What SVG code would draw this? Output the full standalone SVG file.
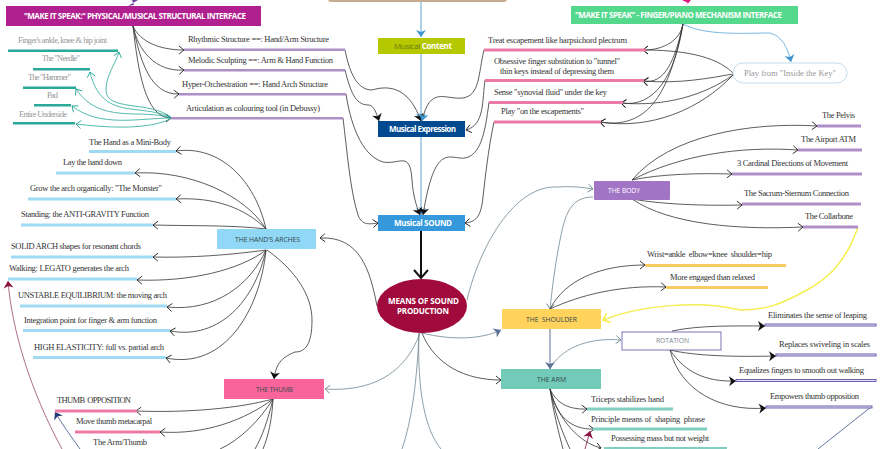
<svg xmlns="http://www.w3.org/2000/svg" width="890" height="449" viewBox="0 0 890 449">
<style>
text{font-family:"Liberation Serif","Times New Roman",serif;font-size:8.5px;fill:#333}
.g{fill:#999}
.s{font-family:"Open Sans","Liberation Sans",sans-serif;font-size:6.8px;fill:#33484f}
.w{font-family:"Open Sans","Liberation Sans",sans-serif;font-size:8px;font-weight:700;fill:#fff}
.c{fill:none;stroke:#333;stroke-width:.8}
.cg{fill:none;stroke:#6f8794;stroke-width:.8}
.ct{fill:none;stroke:#2aa898;stroke-width:.8;marker-end:url(#ot)}
.pu{fill:#b08fc8}.te{fill:#2aa898}.pi{fill:#ec7aa6}.sk{fill:#9fdcf3}.ye{fill:#f8cc60}.ar{fill:#80cfc0}
.du{fill:#e8e6f6;stroke:#5b50a5;stroke-width:.9}
</style>
<defs>
<marker id="ok" markerUnits="userSpaceOnUse" markerWidth="14" markerHeight="14" refX="7" refY="7" orient="auto"><path d="M2 3L7 7L2 11" fill="none" stroke="#222" stroke-width=".9"/></marker>
<marker id="og" markerUnits="userSpaceOnUse" markerWidth="14" markerHeight="14" refX="7" refY="7" orient="auto"><path d="M2 3L7 7L2 11" fill="none" stroke="#6f8794" stroke-width=".9"/></marker>
<marker id="ot" markerUnits="userSpaceOnUse" markerWidth="14" markerHeight="14" refX="7" refY="7" orient="auto"><path d="M2 3L7 7L2 11" fill="none" stroke="#2aa898" stroke-width=".9"/></marker>
<marker id="oy" markerUnits="userSpaceOnUse" markerWidth="16" markerHeight="16" refX="8" refY="8" orient="auto"><path d="M2 3L8 8L2 13" fill="none" stroke="#f5ee50" stroke-width="1.6"/></marker>
<marker id="obk" markerUnits="userSpaceOnUse" markerWidth="20" markerHeight="20" refX="12" refY="10" orient="auto"><path d="M4 3L12 10L4 17" fill="none" stroke="#111" stroke-width="2"/></marker>
<marker id="fk" markerUnits="userSpaceOnUse" markerWidth="12" markerHeight="12" refX="9" refY="6" orient="auto"><path d="M9 6L2 1L4 6L2 11Z" fill="#111"/></marker>
<marker id="fb" markerUnits="userSpaceOnUse" markerWidth="12" markerHeight="12" refX="9" refY="6" orient="auto"><path d="M9 6L2 1L4 6L2 11Z" fill="#3f96cf"/></marker>
<marker id="fs" markerUnits="userSpaceOnUse" markerWidth="12" markerHeight="12" refX="9" refY="6" orient="auto"><path d="M9 6L2 1L4 6L2 11Z" fill="#5a7097"/></marker>
<marker id="fm" markerUnits="userSpaceOnUse" markerWidth="12" markerHeight="12" refX="9" refY="6" orient="auto"><path d="M9 6L2 1L4 6L2 11Z" fill="#8a1040"/></marker>
<marker id="fn" markerUnits="userSpaceOnUse" markerWidth="12" markerHeight="12" refX="9" refY="6" orient="auto"><path d="M9 6L2 1L4 6L2 11Z" fill="#1f3b73"/></marker>
</defs>
<g id="connectors">
<path d="M421 2V37" fill="none" stroke="#5aa5d8" marker-end="url(#fb)"/>
<path d="M421 54V121" fill="none" stroke="#5aa5d8" marker-end="url(#fb)"/>
<path d="M421 137V215" fill="none" stroke="#5aa5d8" marker-end="url(#fb)"/>
<path d="M421 231V278" fill="none" stroke="#111" stroke-width="2" marker-end="url(#obk)"/>
<path class="c" d="M133 26C140 42 160 50 184 50" marker-end="url(#ok)"/>
<path class="c" d="M133 26C138 50 155 72 184 70" marker-end="url(#ok)"/>
<path class="c" d="M133 26C140 60 150 95 179 94" marker-end="url(#ok)"/>
<path class="c" d="M133 26C138 70 145 118 171 118" marker-end="url(#ok)"/>
<path class="ct" d="M172 118C150 100 106 112 106 90C106 75 115 65 119 52"/>
<path class="ct" d="M172 118C140 102 102 122 90 72"/>
<path class="ct" d="M172 118C140 108 100 125 76 89"/>
<path class="ct" d="M172 118C140 118 100 128 72 106"/>
<path class="ct" d="M172 118C150 130 110 128 76 124"/>
<path class="c" d="M345 50C350 75 358 90 372 90C392 84 410 90 421 121" marker-end="url(#fk)"/>
<path class="c" d="M345 70C350 90 355 105 368 105C372 105 375 108 379 121" marker-end="url(#fk)"/>
<path class="c" d="M346 94C350 120 360 155 383 162C400 165 410 150 412 180C413 195 416 205 420 215" marker-end="url(#fk)"/>
<path class="c" d="M343 118C347 150 350 190 358 215C362 226 370 224 378 223" marker-end="url(#ok)"/>
<path class="c" d="M484 50C478 75 480 95 463 98C445 100 430 85 422 121" marker-end="url(#fb)"/>
<path class="c" d="M485 80C482 100 485 125 466 130" marker-end="url(#ok)"/>
<path class="c" d="M489 102C485 135 480 155 465 158C450 160 435 140 423 215" marker-end="url(#fk)"/>
<path class="c" d="M494 122C488 150 485 180 483 197C481 218 475 222 465 223" marker-end="url(#ok)"/>
<path class="c" d="M683 24C680 40 665 50 643 50" marker-end="url(#ok)"/>
<path class="c" d="M683 24C675 60 665 85 643 81" marker-end="url(#ok)"/>
<path class="c" d="M683 24C675 75 655 108 621 103" marker-end="url(#ok)"/>
<path class="c" d="M683 24C670 90 650 130 600 122" marker-end="url(#ok)" stroke-width="1"/>
<path class="c" d="M733 73C715 55 680 50 643 50" marker-end="url(#ok)"/>
<path class="c" d="M733 74C710 78 680 84 643 81" marker-end="url(#ok)"/>
<path class="c" d="M733 75C705 95 665 107 621 103" marker-end="url(#ok)"/>
<path class="c" d="M733 75C700 110 650 130 600 122" marker-end="url(#ok)"/>
<path d="M683 24C705 36 745 33 770 33C782 36 788 48 791 62" fill="none" stroke="#5aa5d8" stroke-width=".8" marker-end="url(#fb)"/>
<path class="c" d="M632 180C670 135 750 122 817 126" marker-end="url(#ok)"/>
<path class="c" d="M632 180C680 155 740 146 798 150" marker-end="url(#ok)"/>
<path class="c" d="M632 180C660 174 700 173 732 174" marker-end="url(#ok)"/>
<path class="c" d="M632 199C660 204 700 206 742 205" marker-end="url(#ok)"/>
<path class="c" d="M632 199C670 225 740 230 803 227" marker-end="url(#ok)"/>
<path d="M858 227C845 265 825 280 807 290C780 305 765 310 740 310C700 300 640 305 603 320" fill="none" stroke="#f5ee50" stroke-width="1.5" marker-end="url(#oy)"/>
<path class="cg" d="M467 300C480 245 515 185 557 187C570 186 582 187 593 189" marker-end="url(#og)"/>
<path class="cg" d="M593 197C570 197 565 215 560 240C555 265 552 290 550 309" marker-end="url(#og)"/>
<path class="c" d="M550 309C565 280 600 265 645 265" marker-end="url(#ok)"/>
<path class="c" d="M550 309C580 295 620 285 666 287" marker-end="url(#ok)"/>
<path class="cg" d="M422 333C450 340 480 340 501 330" marker-end="url(#fs)"/>
<path class="c" d="M422 333C435 365 465 380 501 380" marker-end="url(#ok)"/>
<path class="c" d="M377 306C370 270 360 236 320 238" marker-end="url(#ok)"/>
<path class="cg" d="M420 333C405 375 370 392 325 389" marker-end="url(#og)"/>
<path class="cg" d="M419 333C417 380 412 420 402 449"/>
<path class="cg" d="M419 333C417 390 425 430 441 449"/>
<path d="M550 329V369" fill="none" stroke="#5a7097" marker-end="url(#fs)"/>
<path class="cg" d="M550 369C560 350 585 337 621 340" marker-end="url(#og)"/>
<path class="c" d="M266 229C255 180 220 145 176 151" marker-end="url(#ok)"/>
<path class="c" d="M266 229C245 195 190 170 135 173" marker-end="url(#ok)"/>
<path class="c" d="M266 229C245 208 215 197 176 199" marker-end="url(#ok)"/>
<path class="c" d="M266 229C235 225 190 226 153 225" marker-end="url(#ok)"/>
<path class="c" d="M266 250C230 255 190 258 153 257" marker-end="url(#ok)"/>
<path class="c" d="M266 250C240 270 190 282 137 280" marker-end="url(#ok)"/>
<path class="c" d="M266 250C250 285 215 312 167 307" marker-end="url(#ok)"/>
<path class="c" d="M266 250C255 300 220 340 170 331" marker-end="url(#ok)"/>
<path class="c" d="M266 250C260 310 225 370 166 358" marker-end="url(#ok)"/>
<path class="c" d="M267 250C295 270 312 295 312 320C312 345 305 352 295 352C280 358 276 365 274 379" marker-end="url(#fk)"/>
<path class="c" d="M273 399C240 408 190 413 136 411" marker-end="url(#ok)"/>
<path class="c" d="M273 399C245 420 205 435 160 432" marker-end="url(#ok)"/>
<path class="c" d="M273 399C260 420 240 440 220 449"/>
<path class="c" d="M273 399C268 420 262 437 255 449"/>
<path class="c" d="M273 399C272 420 268 437 263 449"/>
<path d="M62 449C30 390 12 330 8 281" fill="none" stroke="#8a3050" stroke-width=".7" marker-end="url(#fm)"/>
<path d="M80 449C70 435 62 424 55 412" fill="none" stroke="#1f3b73" stroke-width=".7" marker-end="url(#fn)"/>
<path class="c" d="M672 331C700 325 735 326 765 326" marker-end="url(#fk)"/>
<path class="c" d="M670 350C695 356 735 357 776 356" marker-end="url(#fk)"/>
<path class="c" d="M670 350C685 372 705 382 736 381" marker-end="url(#fk)"/>
<path class="c" d="M670 350C680 390 720 412 766 408" marker-end="url(#fk)"/>
<path d="M871 407L818 449" fill="none" stroke="#1f3b73" stroke-width=".7"/>
<path class="c" d="M550 389C555 400 565 410 587 409" marker-end="url(#ok)"/>
<path class="c" d="M550 389C556 415 570 430 594 429" marker-end="url(#ok)"/>
<path class="c" d="M550 389C558 420 580 443 601 448" marker-end="url(#ok)"/>
<path class="c" d="M550 389C553 410 558 430 563 449"/>
<path class="c" d="M550 389C554 410 562 432 570 449"/>
<path d="M585 449L590 431" fill="none" stroke="#8a1040" stroke-width=".8" marker-end="url(#fm)"/>
<path d="M128 6L134 5L132 0L138 0Z" fill="#6a3fa0"/>
<path d="M685 7L688 3L682 0L691 0Z" fill="#e0187f"/>
</g>
<g id="top-node"><rect x="328" y="-20" width="179" height="22" rx="3" fill="#c7ab8e"/></g>
<g id="left-interface"><rect x="6" y="6" width="255" height="20" fill="#b0218f"/><text class="w" x="24" y="19" textLength="222">"MAKE IT SPEAK:" PHYSICAL/MUSICAL STRUCTURAL INTERFACE</text></g>
<g id="right-interface"><rect x="571" y="6" width="227" height="18" fill="#54d98c"/><text class="w" x="575" y="18" textLength="207">"MAKE IT SPEAK" - FINGER/PIANO MECHANISM INTERFACE</text></g>
<g id="content"><rect x="378" y="38" width="87" height="16" fill="#b5c800"/><text class="w" x="394" y="49" textLength="58"><tspan fill="#6c7a10" font-weight="400">Musical </tspan>Content</text></g>
<g id="expression"><rect x="378" y="121" width="87" height="16" fill="#014a8f"/><text class="w" x="389" y="132" textLength="67">Musical Expression</text></g>
<g id="sound"><rect x="378" y="215" width="87" height="16" fill="#3498db"/><text class="w" x="394" y="226" textLength="58">Musical SOUND</text></g>
<g id="means"><ellipse cx="422" cy="306" rx="45" ry="27" fill="#a00a3c"/><text class="w" x="388" y="304" textLength="71">MEANS OF SOUND</text><text class="w" x="397" y="313.500" textLength="52">PRODUCTION</text></g>
<g id="body"><rect x="594" y="181" width="76" height="19" rx="1" fill="#a274c6"/><text class="s" x="608" y="193" textLength="32" style="fill:#fff">THE BODY</text></g>
<g id="shoulder"><rect x="502" y="309" width="99" height="20" fill="#ffd35c"/><text class="s" x="526" y="322" textLength="51" xml:space="preserve">THE  SHOULDER</text></g>
<g id="arm"><rect x="501" y="369" width="100" height="20" fill="#72cbb8"/><text class="s" x="537" y="381.500" textLength="29">THE ARM</text></g>
<g id="arches"><rect x="217" y="229" width="99" height="20" fill="#90d8f5"/><text class="s" x="235" y="242" textLength="65">THE HAND'S ARCHES</text></g>
<g id="thumb"><rect x="224" y="379" width="100" height="20" fill="#f9659a"/><text class="s" x="256" y="391.500" textLength="37">THE THUMB</text></g>
<g id="rotation"><rect x="622" y="332" width="99" height="18" fill="#fff" stroke="#5b50a5" stroke-width=".8"/><text class="s" x="656" y="343" textLength="33" style="fill:#808890">ROTATION</text></g>
<g id="inside-key"><rect x="733" y="63" width="114" height="20" rx="10" fill="#fff" stroke="#c5ddee"/><text class="g" x="744" y="76" textLength="92">Play from "Inside the Key"</text></g>
<g id="n-rhythmic"><rect class="pu" x="184" y="48.500" width="161" height="2.500"/><text x="188" y="42" textLength="141">Rhythmic Structure ==: Hand/Arm Structure</text></g>
<g id="n-melodic"><rect class="pu" x="184" y="69" width="161" height="2.500"/><text x="188" y="63" textLength="145">Melodic Sculpting ==: Arm &amp; Hand Function</text></g>
<g id="n-hyper"><rect class="pu" x="179" y="93" width="167" height="2.500"/><text x="182" y="87" textLength="146">Hyper-Orchestration ==: Hand Arch Structure</text></g>
<g id="n-artic"><rect class="pu" x="171" y="117" width="172" height="2.500"/><text x="186" y="111" textLength="134">Articulation as colouring tool (in Debussy)</text></g>
<g id="n-f1"><rect class="te" x="8" y="49.500" width="110" height="2.500"/><text class="g" x="18" y="43" textLength="89">Finger's ankle, knee &amp; hip joint</text></g>
<g id="n-f2"><rect class="te" x="33" y="68" width="57" height="2.500"/><text class="g" x="42" y="61" textLength="38">The "Needle"</text></g>
<g id="n-f3"><rect class="te" x="23" y="86.500" width="53" height="2.500"/><text class="g" x="28" y="80" textLength="43">The "Hammer"</text></g>
<g id="n-f4"><rect class="te" x="34" y="104" width="37" height="2.500"/><text class="g" x="47" y="98" textLength="11">Pad</text></g>
<g id="n-f5"><rect class="te" x="13" y="122" width="62" height="2.500"/><text class="g" x="19" y="117" textLength="48">Entire Underside</text></g>
<g id="n-treat"><rect class="pi" x="484" y="48.500" width="162" height="3"/><text x="488" y="43" textLength="139">Treat escapement like harpsichord plectrum</text></g>
<g id="n-obs"><rect class="pi" x="485" y="79" width="159" height="3"/><text x="494" y="64" textLength="126">Obsessive finger substitution to "tunnel"</text><text x="500" y="74" textLength="114">thin keys instead of depressing them</text></g>
<g id="n-sense"><rect class="pi" x="489" y="101" width="134" height="3"/><text x="494" y="95" textLength="113">Sense "synovial fluid" under the key</text></g>
<g id="n-play"><rect class="pi" x="494" y="120.500" width="107" height="3"/><text x="501" y="114" textLength="83">Play "on the escapements"</text></g>
<g id="n-pelvis"><rect class="pu" x="817" y="124.500" width="44" height="3"/><text x="822" y="118" textLength="33">The Pelvis</text></g>
<g id="n-atm"><rect class="pu" x="798" y="148.500" width="64" height="3"/><text x="801" y="142" textLength="55">The Airport ATM</text></g>
<g id="n-card"><rect class="pu" x="732" y="172.500" width="130" height="3"/><text x="737" y="166" textLength="111">3 Cardinal Directions of Movement</text></g>
<g id="n-sacrum"><rect class="pu" x="742" y="202.500" width="119" height="3"/><text x="744" y="196" textLength="105">The Sacrum-Sternum Connection</text></g>
<g id="n-collar"><rect class="pu" x="803" y="225.500" width="55" height="3"/><text x="805" y="219" textLength="48">The Collarbone</text></g>
<g id="n-wrist"><rect class="ye" x="645" y="264" width="141" height="3"/><text x="647" y="257" textLength="125" xml:space="preserve">Wrist=ankle  elbow=knee  shoulder=hip</text></g>
<g id="n-engaged"><rect class="ye" x="666" y="286" width="102" height="3"/><text x="670" y="280" textLength="85">More engaged than relaxed</text></g>
<g id="n-elim"><rect class="du" x="765" y="324" width="111" height="2"/><text x="768" y="318" textLength="99">Eliminates the sense of leaping</text></g>
<g id="n-repl"><rect class="du" x="776" y="354" width="100" height="2"/><text x="779" y="347" textLength="91">Replaces swiveling in scales</text></g>
<g id="n-equal"><rect class="du" x="736" y="379.500" width="140" height="2"/><text x="739" y="373" textLength="125">Equalizes fingers to smooth out walking</text></g>
<g id="n-emp"><rect class="du" x="766" y="406" width="106" height="2"/><text x="770" y="399" textLength="89">Empowers thumb opposition</text></g>
<g id="n-triceps"><rect class="ar" x="587" y="407.500" width="86" height="3"/><text x="591" y="402" textLength="73">Triceps stabilizes hand</text></g>
<g id="n-principle"><rect class="ar" x="593" y="427.500" width="114" height="3"/><text x="591" y="422" textLength="114" xml:space="preserve">Principle means of  shaping  phrase</text></g>
<g id="n-possess"><rect class="ar" x="604" y="447" width="123" height="3"/><text x="611" y="441" textLength="98">Possessing mass but not weight</text></g>
<g id="n-a1"><rect class="sk" x="89" y="150" width="87" height="3"/><text x="89" y="145" textLength="82">The Hand as a Mini-Body</text></g>
<g id="n-a2"><rect class="sk" x="56" y="171.500" width="79" height="3"/><text x="63" y="165" textLength="59">Lay the hand down</text></g>
<g id="n-a3"><rect class="sk" x="28" y="197.500" width="148" height="3"/><text x="30" y="191" textLength="132">Grow the arch organically: "The Monster"</text></g>
<g id="n-a4"><rect class="sk" x="21" y="223.500" width="132" height="3"/><text x="21" y="217" textLength="128">Standing: the ANTI-GRAVITY Function</text></g>
<g id="n-a5"><rect class="sk" x="11" y="255.500" width="142" height="3"/><text x="11" y="249" textLength="130">SOLID ARCH shapes for resonant chords</text></g>
<g id="n-a6"><rect class="sk" x="8" y="277.500" width="129" height="3"/><text x="9" y="271" textLength="120">Walking: LEGATO generates the arch</text></g>
<g id="n-a7"><rect class="sk" x="20" y="304.500" width="147" height="3"/><text x="18" y="298" textLength="149">UNSTABLE EQUILIBRIUM: the moving arch</text></g>
<g id="n-a8"><rect class="sk" x="23" y="329" width="147" height="3"/><text x="24" y="323" textLength="133">Integration point for finger &amp; arm function</text></g>
<g id="n-a9"><rect class="sk" x="33" y="356" width="133" height="3"/><text x="34" y="350" textLength="130">HIGH ELASTICITY: full vs. partial arch</text></g>
<g id="n-t1"><rect class="pi" x="55" y="409.500" width="82" height="3"/><text x="57" y="403" textLength="74" xml:space="preserve">THUMB  OPPOSITION</text></g>
<g id="n-t2"><rect class="pi" x="75" y="430.500" width="85" height="3"/><text x="76" y="424" textLength="76">Move thumb metacarpal</text></g>
<g id="n-t3"><text x="93" y="445" textLength="54">The Arm/Thumb</text></g>
</svg>
